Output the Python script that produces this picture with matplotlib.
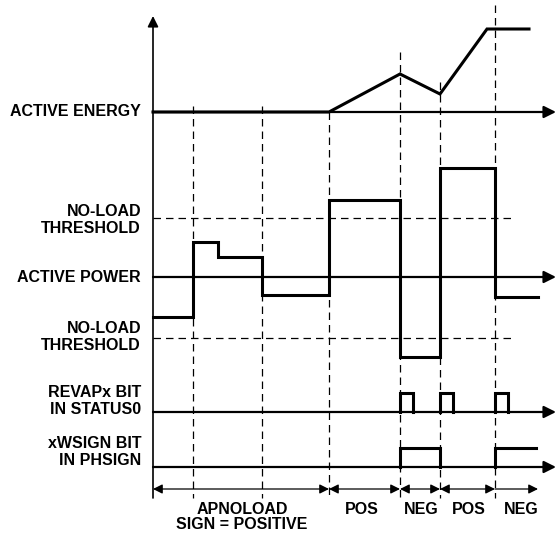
import matplotlib.pyplot as plt

# diagram units = pixels of the 559x533 reference, y grows downward
x_start = 153
x_axis_end = 556
event_x = [193, 262, 329, 400, 440, 495]
event_top = [106, 106, 112, 52, 82, 5]
event_bottom = 498

# active energy trace
energy_y = 112
energy_t = [153, 329, 400, 440, 487, 529]
energy_v = [112, 112, 74, 94, 29, 29]

# active power trace (step, value held until next time)
power_y = 277
power_t = [153, 193, 218, 262, 329, 400, 440, 495, 538]
power_v = [317, 242, 257, 295, 200, 357, 168, 297]
threshold_hi = 218
threshold_lo = 338
threshold_end = 513

# REVAPx bit pulses
revap_y = 412
revap_high = 393
revap_pulse_start = [400, 440, 495]
revap_pulse_width = 13

# xWSIGN bit
wsign_y = 467
wsign_high = 448
wsign_on = [(400, 440), (495, 536)]

# bottom sign intervals
seg_y = 489
seg_bounds = [153, 329, 400, 440, 495, 538]
seg_labels = ['APNOLOAD\nSIGN = POSITIVE', 'POS', 'NEG', 'POS', 'NEG']
seg_label_x = [242, 362, 421, 469, 521]
seg_label_y = [517, 509, 509, 509, 509]

row_labels = ['ACTIVE ENERGY', 'NO-LOAD\nTHRESHOLD', 'ACTIVE POWER',
              'NO-LOAD\nTHRESHOLD', 'REVAPx BIT\nIN STATUS0', 'xWSIGN BIT\nIN PHSIGN']
row_label_y = [112, 220, 278, 337, 401, 452]

plt.rcParams['font.family'] = ['Liberation Sans', 'DejaVu Sans']

fig = plt.figure(figsize=(5.59, 5.33), dpi=100)
ax = fig.add_axes([0, 0, 1, 1])
ax.set_xlim(0, 559)
ax.set_ylim(533, 0)
ax.axis('off')

# vertical axis
ax.annotate('', xy=(x_start, 16), xytext=(x_start, event_bottom),
            arrowprops=dict(arrowstyle='-|>', color='black', lw=1.2,
                            mutation_scale=16, shrinkA=0, shrinkB=0))

# horizontal axes with arrows
for y in [energy_y, power_y, revap_y, wsign_y]:
    ax.annotate('', xy=(x_axis_end, y), xytext=(x_start, y),
                arrowprops=dict(arrowstyle='-|>', color='black', lw=1.6,
                                mutation_scale=18, shrinkA=0, shrinkB=0))

# dashed event lines
for x, top in zip(event_x, event_top):
    ax.plot([x, x], [top, event_bottom], color='black', lw=0.9,
            dashes=(6, 4))

# threshold lines
for y in [threshold_hi, threshold_lo]:
    ax.plot([x_start, threshold_end], [y, y], color='black', lw=0.9,
            dashes=(6, 4))

# active energy
ax.plot(energy_t, energy_v, color='black', lw=2.2, solid_joinstyle='miter')

# active power
ax.step(power_t, power_v + [power_v[-1]], where='post', color='black',
        lw=2.2, solid_joinstyle='miter')

# REVAPx pulses
for s in revap_pulse_start:
    ax.plot([s, s, s + revap_pulse_width, s + revap_pulse_width],
            [revap_y, revap_high, revap_high, revap_y], color='black', lw=2.2,
            solid_joinstyle='miter')

# xWSIGN bit
for a, b in wsign_on:
    xs = [a, a, b] + ([b] if b < 500 else [])
    ys = [wsign_y, wsign_high, wsign_high] + ([wsign_y] if b < 500 else [])
    ax.plot(xs, ys, color='black', lw=2.2, solid_joinstyle='miter')

# sign interval arrows
for i in range(len(seg_bounds) - 1):
    a, b = seg_bounds[i], seg_bounds[i + 1]
    style = '<|-|>' if i < len(seg_bounds) - 2 else '<|-'
    ax.annotate('', xy=(a, seg_y), xytext=(b, seg_y),
                arrowprops=dict(arrowstyle=style, color='black', lw=0.9,
                                mutation_scale=14, shrinkA=0, shrinkB=0))

for lab, x, y in zip(seg_labels, seg_label_x, seg_label_y):
    ax.text(x, y, lab, ha='center', va='center', fontsize=11.5,
            fontweight='bold', linespacing=0.95)

for lab, y in zip(row_labels, row_label_y):
    ax.text(141, y, lab, ha='right', va='center', fontsize=11.5,
            fontweight='bold', linespacing=1.2)

fig.savefig('out.png', dpi=100)
